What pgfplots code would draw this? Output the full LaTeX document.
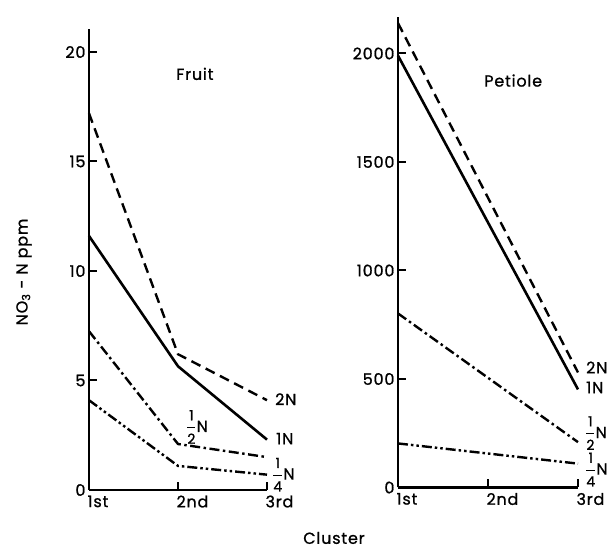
\documentclass[border=0pt]{standalone}
\usepackage{amsmath}
\usepackage{pgfplots}
\pgfplotsset{compat=1.18}
\usepackage{fontspec}
\setmainfont{Poppins}[LetterSpace=5, FakeBold=1]
\newcommand{\fr}[2]{$\genfrac{}{}{1.3pt}{0}{\mbox{\fontsize{14}{14}\selectfont #1}}{\mbox{\fontsize{14}{14}\selectfont #2}}$}
\tikzset{lab/.style={font=\fontsize{16}{16}\selectfont, anchor=west, inner sep=0pt}}
\begin{document}
\begin{tikzpicture}
\path[use as bounding box] (0pt,0pt) rectangle (616pt,548pt);
\pgfplotsset{
  myax/.style={
    scale only axis, clip=false,
    axis x line=bottom, axis y line=left,
    axis line style={-, line width=2.8pt},
    tick align=inside, major tick length=8pt,
    tick style={line width=2pt, black},
    xmin=0, xmax=2, xtick={0,1,2}, xticklabels={1st,2nd,3rd},
    xticklabel style={anchor=north west, xshift=-5pt, yshift=-2pt},
    every tick label/.append style={font=\fontsize{16}{16}\selectfont},
    /pgf/number format/assume math mode=true,
    /pgf/number format/1000 sep={},
    ymin=0,
  },
  s2/.style={line width=2.4pt, dash pattern=on 10pt off 6pt},
  s1/.style={line width=2.6pt},
  sh/.style={line width=2.4pt, dash pattern=on 10pt off 3.5pt on 2.5pt off 3.5pt},
  sq/.style={line width=2.4pt, dash pattern=on 10pt off 3pt on 2.5pt off 3pt on 2.5pt off 3pt},
}
% Fruit
\begin{axis}[myax, anchor=origin, at={(89pt,58pt)}, width=178pt, height=461pt, ymax=21.05,
  ytick={0,5,10,15,20}]
\addplot[s2] coordinates {(0,17.2) (1,6.2) (2,4.1)};
\addplot[s1] coordinates {(0,11.6) (1,5.65) (2,2.3)};
\addplot[sh] coordinates {(0,7.25) (1,2.1) (2,1.5)};
\addplot[sq] coordinates {(0,4.1) (1,1.1) (2,0.7)};
\node[lab, xshift=8pt, yshift=1pt] at (axis cs:2,4.1) {2N};
\node[lab, xshift=9pt, yshift=1pt] at (axis cs:2,2.3) {1N};
\node[lab, xshift=5pt, yshift=0pt] at (axis cs:2,0.7) {\fr{1}{4}N};
\node[lab, anchor=center, xshift=19pt, yshift=17pt] at (axis cs:1,2.1) {\fr{1}{2}N};
\node[font=\fontsize{16}{16}\selectfont, inner sep=0pt] at (axis cs:1.19,19.0) {Fruit};
\end{axis}
% Petiole
\begin{axis}[myax, anchor=origin, at={(398pt,60.5pt)}, width=180pt, height=470.5pt, ymax=2168,
  ytick={0,500,1000,1500,2000}]
\addplot[s2] coordinates {(0,2140) (2,530)};
\addplot[s1] coordinates {(0,1990) (2,452)};
\addplot[sh] coordinates {(0,802) (2,209)};
\addplot[sq] coordinates {(0,203) (2,110)};
\node[lab, xshift=8pt, yshift=5pt] at (axis cs:2,530) {2N};
\node[lab, xshift=8pt, yshift=2pt] at (axis cs:2,452) {1N};
\node[lab, xshift=7pt, yshift=9pt] at (axis cs:2,209) {\fr{1}{2}N};
\node[lab, xshift=7pt, yshift=-6pt] at (axis cs:2,110) {\fr{1}{4}N};
\node[font=\fontsize{16}{16}\selectfont, inner sep=0pt] at (axis cs:1.28,1875) {Petiole};
\end{axis}
\node[font=\fontsize{16}{16}\selectfont, rotate=90] at (24pt,276pt) {NO\textsubscript{3} - N ppm};
\node[font=\fontsize{16}{16}\selectfont] at (334pt,10pt) {Cluster};
\end{tikzpicture}
\end{document}
